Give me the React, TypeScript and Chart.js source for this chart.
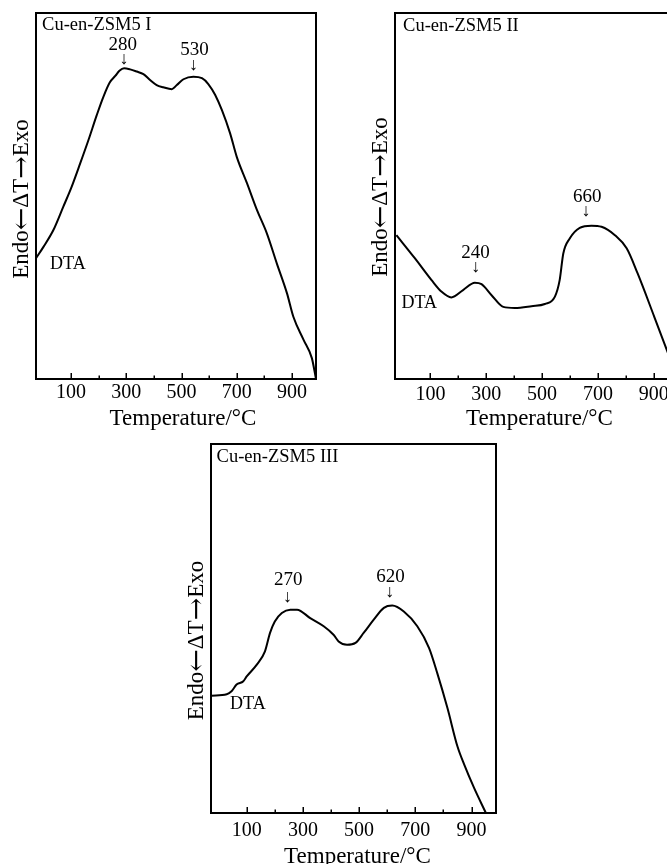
import React, { useEffect, useRef } from 'react';
import { Chart, registerables } from 'chart.js';

Chart.register(...registerables);

const SERIF = '"Liberation Serif", "Times New Roman", "DejaVu Serif", serif';
const ARROW_FONT = '"DejaVu Serif", serif';

// Axis range and ticks (°C)
const X_MIN = -27;
const X_MAX = 987;
const TICK_VALUES = [100, 200, 300, 400, 500, 600, 700, 800, 900];
const LABELLED_TICKS = [100, 300, 500, 700, 900];

const X_TITLE = 'Temperature/°C';
const Y_TITLE_PARTS = ['Endo', '←', 'ΔT', '→', 'Exo'];

// Cu-en-ZSM5 I
const temps1 = [-27, 0, 36, 72, 102, 133, 163, 193, 217, 240, 260, 275, 292, 314, 338, 362, 386, 410, 434, 465, 483, 507, 543, 574, 597, 622, 646, 676, 700, 737, 773, 809, 845, 882, 905, 942, 972, 987];
const dta1 = [33.0, 36.1, 40.7, 47.1, 52.5, 58.9, 65.3, 72.1, 77.1, 81.0, 82.8, 84.2, 84.9, 84.6, 84.0, 83.3, 81.7, 80.3, 79.7, 79.2, 80.3, 81.9, 82.6, 82.2, 80.6, 77.6, 73.5, 67.1, 60.7, 53.5, 46.2, 39.8, 31.6, 23.4, 17.0, 10.7, 5.7, 0];
const peaks1 = ['280', '530'];

// Cu-en-ZSM5 II
const temps2 = [-22, 44, 104, 139, 175, 217, 259, 283, 319, 361, 402, 462, 510, 546, 563, 576, 599, 635, 677, 713, 761, 803, 842, 902, 958, 987];
const dta2 = [39.3, 33.0, 27.0, 23.9, 22.3, 24.3, 26.3, 25.9, 22.9, 19.7, 19.4, 19.9, 20.5, 22.5, 27.0, 34.3, 38.4, 41.3, 41.9, 41.6, 39.3, 35.7, 28.9, 17.0, 5.7, 0];
const peaks2 = ['240', '660'];

// Cu-en-ZSM5 III
const temps3 = [-25, 29, 46, 64, 88, 100, 136, 165, 183, 200, 225, 255, 279, 326, 374, 409, 427, 457, 487, 516, 552, 588, 618, 659, 707, 749, 778, 814, 850, 874, 909, 951];
const dta3 = [31.8, 32.2, 33.0, 34.8, 35.7, 37.0, 40.2, 43.8, 48.8, 51.9, 54.2, 55.1, 55.1, 52.8, 50.6, 48.3, 46.5, 45.6, 46.1, 48.8, 52.4, 55.6, 56.2, 54.6, 50.6, 44.7, 37.9, 28.5, 18.0, 13.1, 6.8, 0];
const peaks3 = ['270', '620'];

type TextItem = { text: string; x: number; y: number; align: CanvasTextAlign; size: number };

const decorPlugin = {
  id: 'decor',
  afterDraw(chart: any, _args: any, opts: any) {
    const { ctx, chartArea: a, scales } = chart;
    const xs = scales.x;
    const ys = scales.y;
    ctx.save();
    ctx.strokeStyle = '#000';
    ctx.fillStyle = '#000';
    // inward ticks
    ctx.lineWidth = 1.5;
    for (const v of TICK_VALUES) {
      const px = Math.round(xs.getPixelForValue(v)) + 0.25;
      const len = LABELLED_TICKS.includes(v) ? 6 : 3.5;
      ctx.beginPath();
      ctx.moveTo(px, a.bottom);
      ctx.lineTo(px, a.bottom - len);
      ctx.stroke();
    }
    // frame
    ctx.lineWidth = 2;
    ctx.strokeRect(a.left, a.top, a.right - a.left, a.bottom - a.top);
    // annotations
    ctx.textBaseline = 'middle';
    for (const t of opts.texts as TextItem[]) {
      ctx.font = `${t.size}px ${SERIF}`;
      ctx.textAlign = t.align;
      ctx.fillText(t.text, xs.getPixelForValue(t.x), ys.getPixelForValue(t.y));
    }
    // x title
    ctx.font = `23px ${SERIF}`;
    ctx.textAlign = 'center';
    ctx.textBaseline = 'alphabetic';
    ctx.fillText(X_TITLE, (a.left + a.right) / 2 + opts.xTitleDx, a.bottom + opts.xTitleDy);
    // y title (rotated), arrows drawn in a font with longer arrows
    ctx.translate(a.left - 14, (a.top + a.bottom) / 2 + opts.yTitleDy);
    ctx.rotate(-Math.PI / 2);
    ctx.textBaseline = 'middle';
    ctx.textAlign = 'left';
    const isArrow = (s: string) => s === '←' || s === '→';
    const fontFor = (s: string) => (isArrow(s) ? `27px ${ARROW_FONT}` : `23px ${SERIF}`);
    let total = 0;
    const widths = Y_TITLE_PARTS.map((s) => {
      ctx.font = fontFor(s);
      const w = ctx.measureText(s).width;
      total += w;
      return w;
    });
    let cx = -total / 2;
    Y_TITLE_PARTS.forEach((s, i) => {
      ctx.font = fontFor(s);
      ctx.fillText(s, cx, isArrow(s) ? 1 : 0);
      cx += widths[i];
    });
    ctx.restore();
  },
};

type PanelProps = {
  temps: number[];
  dta: number[];
  width: number;
  height: number;
  left: number;
  top: number;
  padding: { left: number; right: number; top: number; bottom: number };
  tickPad: number;
  texts: TextItem[];
  xTitleDx: number;
  xTitleDy: number;
  yTitleDy: number;
};

function Panel(p: PanelProps) {
  const ref = useRef<HTMLCanvasElement>(null);
  useEffect(() => {
    if (!ref.current) return;
    const bottomSpace = p.padding.bottom;
    const chart = new Chart(ref.current, {
      type: 'line',
      data: {
        datasets: [
          {
            data: p.temps.map((t, i) => ({ x: t, y: p.dta[i] })),
            borderColor: '#000',
            borderWidth: 2,
            pointRadius: 0,
            fill: false,
            cubicInterpolationMode: 'monotone',
            clip: 3,
          } as any,
        ],
      },
      options: {
        responsive: false,
        animation: false,
        events: [],
        layout: { padding: { left: p.padding.left, right: p.padding.right, top: p.padding.top, bottom: 0 } },
        plugins: {
          legend: { display: false },
          tooltip: { enabled: false },
          decor: { texts: p.texts, xTitleDx: p.xTitleDx, xTitleDy: p.xTitleDy, yTitleDy: p.yTitleDy },
        } as any,
        scales: {
          x: {
            type: 'linear',
            min: X_MIN,
            max: X_MAX,
            afterBuildTicks: (s: any) => {
              s.ticks = TICK_VALUES.map((v) => ({ value: v }));
            },
            afterFit: (s: any) => {
              s.height = bottomSpace;
            },
            grid: { display: false, drawTicks: false },
            border: { display: false },
            ticks: {
              autoSkip: false,
              maxRotation: 0,
              padding: p.tickPad,
              color: '#000',
              font: { family: SERIF, size: 20 },
              callback: (v: any) => (LABELLED_TICKS.includes(Number(v)) ? String(v) : ''),
            },
          },
          y: {
            type: 'linear',
            min: 0,
            max: 100,
            display: false,
          },
        },
      },
      plugins: [decorPlugin],
    });
    return () => chart.destroy();
  }, []);
  return (
    <canvas
      ref={ref}
      width={p.width}
      height={p.height}
      style={{ position: 'absolute', left: p.left, top: p.top, width: p.width, height: p.height }}
    />
  );
}

export default function App() {
  return (
    <div
      style={{
        position: 'fixed',
        left: 0,
        top: 0,
        width: 667,
        height: 864,
        overflow: 'hidden',
        background: '#fff',
      }}
    >
      <Panel
        temps={temps1}
        dta={dta1}
        left={0}
        top={0}
        width={340}
        height={440}
        padding={{ left: 36, top: 13, right: 24, bottom: 61 }}
        tickPad={2}
        xTitleDx={7}
        xTitleDy={46}
        yTitleDy={3}
        texts={[
          { text: 'Cu-en-ZSM5 I', x: -5, y: 96.7, align: 'left', size: 18.5 },
          { text: peaks1[0], x: 287, y: 91.3, align: 'center', size: 19 },
          { text: '↓', x: 292, y: 87.4, align: 'center', size: 18 },
          { text: peaks1[1], x: 547, y: 89.9, align: 'center', size: 19 },
          { text: '↓', x: 543, y: 85.8, align: 'center', size: 18 },
          { text: 'DTA', x: 24, y: 31.4, align: 'left', size: 18 },
        ]}
      />
      <Panel
        temps={temps2}
        dta={dta2}
        left={340}
        top={0}
        width={360}
        height={440}
        padding={{ left: 55, top: 13, right: 22, bottom: 61 }}
        tickPad={4}
        xTitleDx={3}
        xTitleDy={46}
        yTitleDy={1}
        texts={[
          { text: 'Cu-en-ZSM5 II', x: 2, y: 96.4, align: 'left', size: 18.5 },
          { text: peaks2[0], x: 261, y: 34.4, align: 'center', size: 19 },
          { text: '↓', x: 262, y: 30.5, align: 'center', size: 18 },
          { text: peaks2[1], x: 662, y: 49.7, align: 'center', size: 19 },
          { text: '↓', x: 657, y: 45.7, align: 'center', size: 18 },
          { text: 'DTA', x: -4, y: 20.8, align: 'left', size: 18 },
        ]}
      />
      <Panel
        temps={temps3}
        dta={dta3}
        left={170}
        top={430}
        width={360}
        height={434}
        padding={{ left: 41, top: 14, right: 34, bottom: 51 }}
        tickPad={6}
        xTitleDx={4}
        xTitleDy={50}
        yTitleDy={12}
        texts={[
          { text: 'Cu-en-ZSM5 III', x: -7, y: 96.4, align: 'left', size: 18.5 },
          { text: peaks3[0], x: 248, y: 63.2, align: 'center', size: 19 },
          { text: '↓', x: 245, y: 58.5, align: 'center', size: 18 },
          { text: peaks3[1], x: 612, y: 64.0, align: 'center', size: 19 },
          { text: '↓', x: 609, y: 59.7, align: 'center', size: 18 },
          { text: 'DTA', x: 41, y: 29.6, align: 'left', size: 18 },
        ]}
      />
    </div>
  );
}
